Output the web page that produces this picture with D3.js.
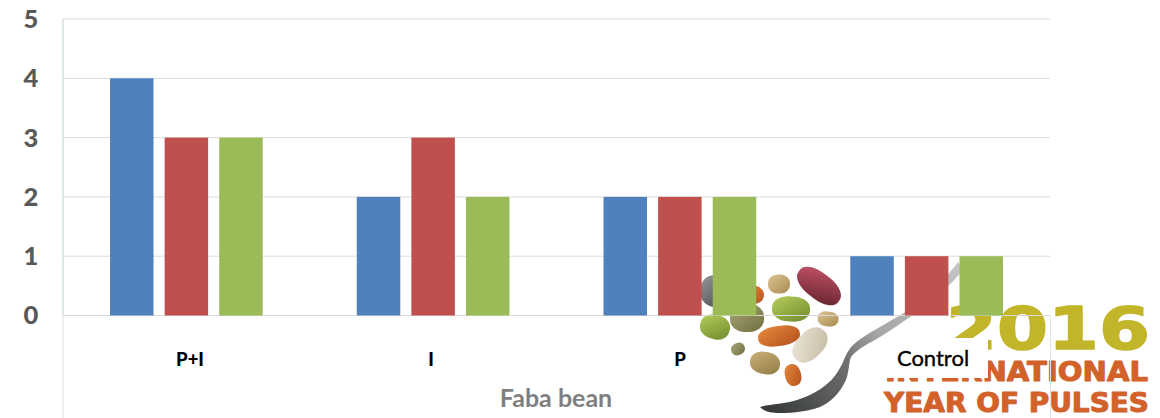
<!DOCTYPE html>
<html><head><meta charset="utf-8">
<script src="https://cdn.jsdelivr.net/npm/d3@7"></script>
<style>html,body{margin:0;padding:0;background:#fff}svg{display:block}</style></head>
<body><div id="chart"></div>
<script>
const categories = ["P+I", "I", "P", "Control"];
const seriesA = [4, 2, 2, 1];
const seriesB = [3, 3, 2, 1];
const seriesC = [3, 2, 2, 1];
const seriesColors = ["#4f81bd", "#c0504d", "#9bbb59"];
const yTicks = [0, 1, 2, 3, 4, 5];
const xTitle = "Faba bean";

const W = 1160, H = 418;
const svg = d3.select("#chart").append("svg").attr("width", W).attr("height", H);
const defs = svg.append("defs");
const x = d3.scaleBand().domain(categories).range([63, 1050]);
const y = d3.scaleLinear().domain([0, 5]).range([315.5, 19]);
const barW = 43.5, barStep = 54.6;

function grad(id, c1, c2, x2 = "100%", y2 = "100%") {
  const g = defs.append("linearGradient").attr("id", id)
    .attr("x1", "0%").attr("y1", "0%").attr("x2", x2).attr("y2", y2);
  g.append("stop").attr("offset", "0%").attr("stop-color", c1);
  g.append("stop").attr("offset", "100%").attr("stop-color", c2);
}
grad("gGray", "#9a9a9e", "#3c3d42");
grad("gOrange", "#e58a3c", "#b5501e");
grad("gTan", "#dcc596", "#a98a4e");
grad("gMaroon", "#c9566c", "#5f2028");
grad("gGreen", "#b9cf5c", "#6c8a2c");
grad("gOlive", "#a9a878", "#716d3e");
grad("gCream", "#efe9dc", "#c4b8a0");
grad("gBrown", "#cdb27a", "#8f7a44");
const sg = defs.append("linearGradient").attr("id", "gSpoon").attr("gradientUnits", "userSpaceOnUse")
  .attr("x1", 960).attr("y1", 265).attr("x2", 770).attr("y2", 410);
[[0, "#c4c4c4"], [0.45, "#a6a6a6"], [0.62, "#6f7070"], [1, "#383b3b"]].forEach(s =>
  sg.append("stop").attr("offset", s[0]).attr("stop-color", s[1]));

// Decorative International Year of Pulses logo, behind the chart
const logo = svg.append("g");
logo.append("path")
  .attr("d", "M958,262 C945,280 925,298 907,311 C888,323 865,334 853,345 C847,351 845,358 843,362 C838,373 832,380 827,384 C816,393 806,397 797,400 C785,404 770,404 760,407 C765,412 772,413 780,413 C795,413 808,411 820,407 C835,400 843,388 847,377 C849,370 849,362 851,357 C858,348 870,343 880,337 C892,330 902,322 913,315 C932,302 950,286 963,270 Z")
  .attr("fill", "url(#gSpoon)");
const beans = [
  [718, 291, 18, 16, 0, "gGray"], [752, 294, 12, 9, 15, "gOrange"],
  [779, 284, 11, 9.5, 0, "gTan"], [819, 286, 25, 13, 38, "gMaroon"],
  [791, 309, 19, 12.5, 3, "gGreen"], [828, 319, 10.5, 7.5, 5, "gTan"],
  [715, 327, 15, 12, 15, "gGreen"], [747, 318, 17, 14, 0, "gOlive"],
  [779, 336, 21, 10, -8, "gOrange"], [810, 345, 20, 13, -45, "gCream"],
  [738, 349, 7, 6, -20, "gOlive"], [765, 363, 15, 11, 10, "gBrown"],
  [793, 375, 8, 11, -15, "gOrange"]
];
logo.selectAll("rect.bean").data(beans).join("rect").attr("class", "bean")
  .attr("x", d => d[0] - d[2]).attr("y", d => d[1] - d[3])
  .attr("width", d => 2 * d[2]).attr("height", d => 2 * d[3])
  .attr("rx", d => d[2] * 0.85).attr("ry", d => d[3] * 0.9)
  .attr("transform", d => `rotate(${d[4]} ${d[0]} ${d[1]})`)
  .attr("fill", d => `url(#${d[5]})`);
function logoText(str, xp, yp, len, size, color, sw) {
  logo.append("text").text(str).attr("x", xp).attr("y", yp)
    .attr("textLength", len).attr("lengthAdjust", "spacingAndGlyphs")
    .attr("font-family", "DejaVu Sans").attr("font-weight", 700).attr("font-size", size)
    .attr("fill", color).attr("stroke", color).attr("stroke-width", sw).attr("stroke-linejoin", "round");
}
logoText("2016", 946, 349, 204, 59, "#c3b52a", 1.5);
logoText("INTERNATIONAL", 885, 381, 263, 26, "#d2622a", 1);
logoText("YEAR OF PULSES", 884, 412, 265, 26, "#d2622a", 1);

// Gridlines and axes
const grid = svg.append("g");
grid.selectAll("line").data(yTicks.filter(d => d > 0)).join("line")
  .attr("x1", 63).attr("x2", 1050).attr("y1", d => y(d)).attr("y2", d => y(d))
  .attr("stroke", "#dcdcdc").attr("stroke-width", 1);
grid.append("line").attr("x1", 63).attr("x2", 1050).attr("y1", y(0)).attr("y2", y(0))
  .attr("stroke", "#d9d9d9").attr("stroke-width", 1);
grid.append("line").attr("x1", 63).attr("x2", 63).attr("y1", y(5)).attr("y2", y(0))
  .attr("stroke", "#c8d8d8").attr("stroke-width", 1.2);
grid.append("line").attr("x1", 63).attr("x2", 63).attr("y1", y(0)).attr("y2", H)
  .attr("stroke", "#e6e6e6").attr("stroke-width", 1.2);
grid.append("line").attr("x1", 1050.5).attr("x2", 1050.5).attr("y1", y(0)).attr("y2", H)
  .attr("stroke", "#e2e2e2").attr("stroke-width", 1);

// Bars
[seriesA, seriesB, seriesC].forEach((vals, s) => {
  svg.append("g").selectAll("rect").data(vals).join("rect")
    .attr("x", (d, i) => x(categories[i]) + x.bandwidth() / 2 - barW / 2 + (s - 1) * barStep)
    .attr("width", barW)
    .attr("y", d => y(d))
    .attr("height", d => y(0) - y(d))
    .attr("fill", seriesColors[s]);
});

// White label box that covers part of the logo
svg.append("rect").attr("x", 885).attr("y", 338).attr("width", 103).attr("height", 40).attr("fill", "#fff");

// Tick labels
svg.append("g").selectAll("text").data(yTicks).join("text")
  .attr("x", 31).attr("y", d => y(d)).attr("dy", "0.35em").attr("text-anchor", "middle")
  .attr("font-family", "Lato").attr("font-weight", 900).attr("font-size", 25.5)
  .attr("fill", "#595959").text(d => d);
const catX = [190, 431, 680, 933];
const catSize = [18.5, 18.5, 18.5, 22];
const catWeight = [900, 900, 900, 400];
svg.append("g").selectAll("text").data(categories).join("text")
  .attr("x", (d, i) => catX[i]).attr("y", 366).attr("text-anchor", "middle")
  .attr("font-family", "Lato").attr("font-weight", (d, i) => catWeight[i]).attr("font-size", (d, i) => catSize[i])
  .attr("fill", "#000").attr("stroke", "#000").attr("stroke-width", (d, i) => i === 3 ? 0.35 : 0)
  .text(d => d);
svg.append("text").attr("x", 556).attr("y", 407).attr("text-anchor", "middle")
  .attr("font-family", "Lato").attr("font-weight", 700).attr("font-size", 25)
  .attr("fill", "#7f7f7f").text(xTitle);
</script></body></html>
